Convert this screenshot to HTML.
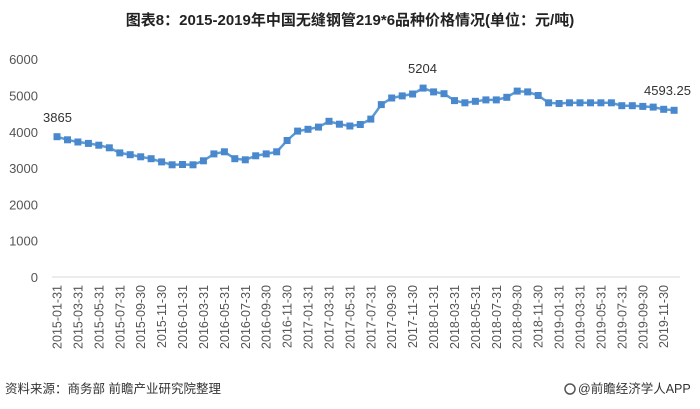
<!DOCTYPE html>
<html><head><meta charset="utf-8"><style>
html,body{margin:0;padding:0;background:#fff;width:700px;height:409px;overflow:hidden}
svg text{font-family:"Liberation Sans","Noto Sans CJK SC",sans-serif}
</style></head><body>
<svg id="s" width="700" height="409" xmlns="http://www.w3.org/2000/svg">
<text x="350" y="25" text-anchor="middle" font-size="15" font-weight="bold" fill="#222">图表8：2015-2019年中国无缝钢管219*6品种价格情况(单位：元/吨)</text>
<line x1="52" y1="277" x2="680" y2="277" stroke="#d9d9d9" stroke-width="1"/>
<g id="g"></g>
<text x="5" y="393" font-size="12.5" fill="#333">资料来源：商务部 前瞻产业研究院整理</text>
<circle cx="570" cy="389" r="5" fill="none" stroke="#555" stroke-width="1.5"/>
<text x="578" y="393" font-size="12.5" fill="#333">@前瞻经济学人APP</text>
</svg>
<script>
var v=[3865,3780,3720,3680,3630,3560,3420,3370,3310,3260,3170,3090,
3100,3090,3200,3390,3450,3260,3230,3340,3390,3450,3760,4020,
4070,4130,4290,4210,4160,4200,4350,4750,4930,4990,5040,5204,
5100,5050,4860,4800,4840,4880,4880,4950,5120,5100,5000,4800,
4780,4800,4800,4800,4800,4800,4720,4720,4700,4680,4620,4593.25];
var g=document.getElementById('g'),h='';
function X(i){return 57+i*10.46}function Y(x){return 277-x*0.0363}
for(var k=0;k<=6;k++){h+='<text x="38" y="'+(Y(k*1000)+5)+'" text-anchor="end" font-size="13" fill="#555">'+(k*1000)+'</text>';}
var p='';for(var i=0;i<v.length;i++)p+=(i?'L':'M')+X(i).toFixed(1)+' '+Y(v[i]).toFixed(1);
h+='<path d="'+p+'" fill="none" stroke="#5b9bd5" stroke-width="2.5"/>';
for(i=0;i<v.length;i++)h+='<rect x="'+(X(i)-3.5).toFixed(1)+'" y="'+(Y(v[i])-3.5).toFixed(1)+'" width="7" height="7" fill="#4a88ce"/>';
for(i=0;i<60;i+=2){var y=2015+Math.floor(i/12),m=i%12+1;var d=[31,28,31,30,31,30,31,31,30,31,30,31][m-1];
var s=y+'-'+(m<10?'0':'')+m+'-'+d;var x=X(i)+4.5;
h+='<text transform="translate('+x.toFixed(1)+',285) rotate(-90)" text-anchor="end" font-size="12.5" fill="#555">'+s+'</text>';}
h+='<text x="43" y="122" font-size="13" fill="#333">3865</text>';
h+='<text x="408" y="73" font-size="13" fill="#333">5204</text>';
h+='<text x="644" y="95" font-size="13" fill="#333">4593.25</text>';
g.innerHTML=h;
</script>
</body></html>
